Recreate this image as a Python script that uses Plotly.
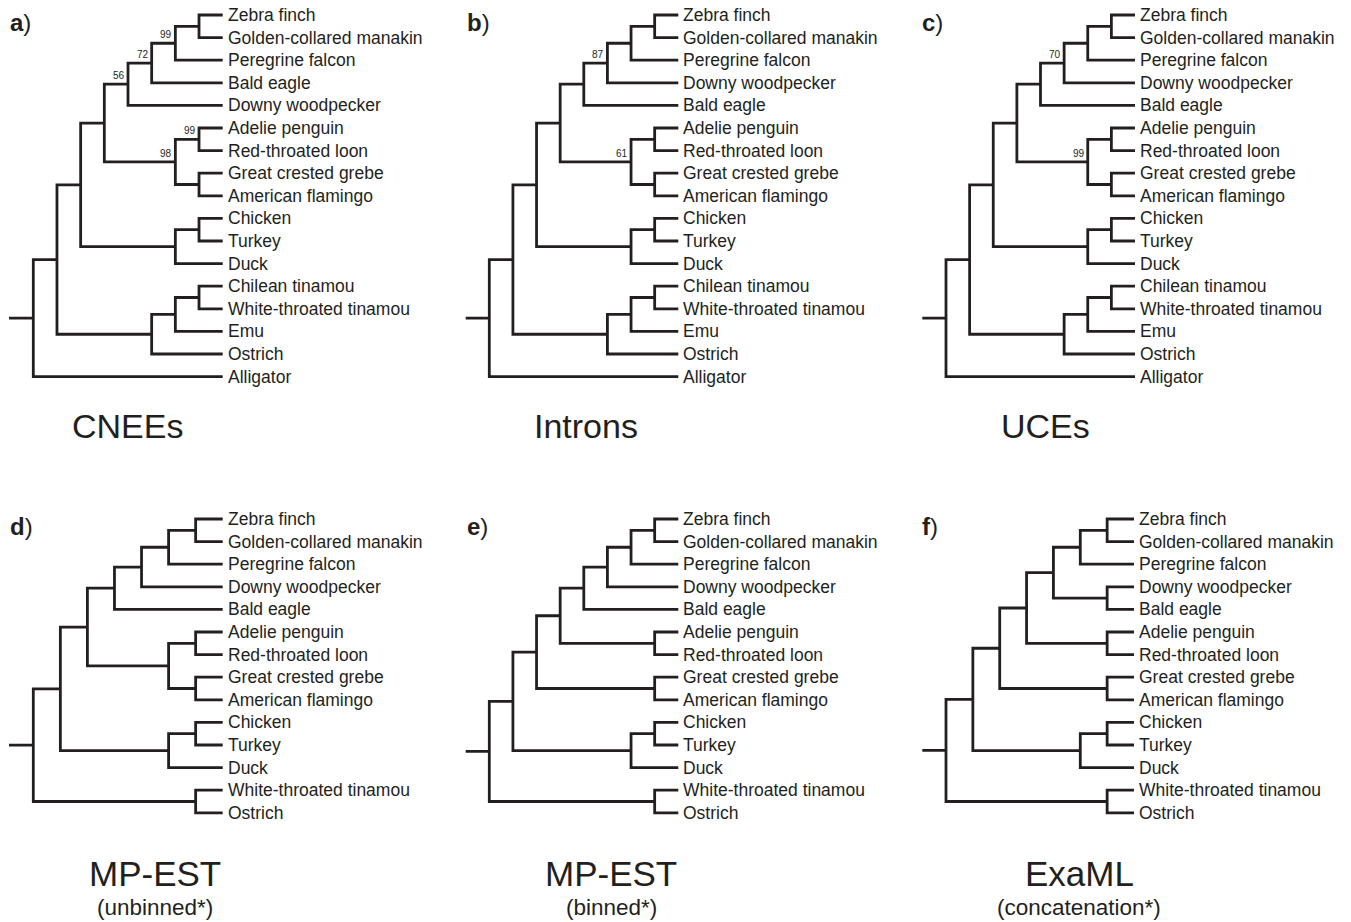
import plotly.graph_objects as go

# ---------------- data: tree topologies (Newick) with bootstrap labels ----------------
TREE_CNEES = ("((((((((Zebra finch,Golden-collared manakin),Peregrine falcon)99,Bald eagle)72,"
              "Downy woodpecker)56,((Adelie penguin,Red-throated loon)99,"
              "(Great crested grebe,American flamingo))98),((Chicken,Turkey),Duck)),"
              "(((Chilean tinamou,White-throated tinamou),Emu),Ostrich)),Alligator);")
TREE_INTRONS = ("((((((((Zebra finch,Golden-collared manakin),Peregrine falcon),Downy woodpecker)87,"
                "Bald eagle),((Adelie penguin,Red-throated loon),"
                "(Great crested grebe,American flamingo))61),((Chicken,Turkey),Duck)),"
                "(((Chilean tinamou,White-throated tinamou),Emu),Ostrich)),Alligator);")
TREE_UCES = ("((((((((Zebra finch,Golden-collared manakin),Peregrine falcon),Downy woodpecker)70,"
             "Bald eagle),((Adelie penguin,Red-throated loon),"
             "(Great crested grebe,American flamingo))99),((Chicken,Turkey),Duck)),"
             "(((Chilean tinamou,White-throated tinamou),Emu),Ostrich)),Alligator);")
TREE_MPEST_UNBINNED = ("(((((((Zebra finch,Golden-collared manakin),Peregrine falcon),Downy woodpecker),"
                       "Bald eagle),((Adelie penguin,Red-throated loon),"
                       "(Great crested grebe,American flamingo))),((Chicken,Turkey),Duck)),"
                       "(White-throated tinamou,Ostrich));")
TREE_MPEST_BINNED = ("((((((((Zebra finch,Golden-collared manakin),Peregrine falcon),Downy woodpecker),"
                     "Bald eagle),(Adelie penguin,Red-throated loon)),"
                     "(Great crested grebe,American flamingo)),((Chicken,Turkey),Duck)),"
                     "(White-throated tinamou,Ostrich));")
TREE_EXAML = ("(((((((Zebra finch,Golden-collared manakin),Peregrine falcon),"
              "(Downy woodpecker,Bald eagle)),(Adelie penguin,Red-throated loon)),"
              "(Great crested grebe,American flamingo)),((Chicken,Turkey),Duck)),"
              "(White-throated tinamou,Ostrich));")

PANEL_LETTERS = ["a", "b", "c", "d", "e", "f"]
TITLES = ["CNEEs", "Introns", "UCEs", "MP-EST", "MP-EST", "ExaML"]
SUBTITLES = ["", "", "", "(unbinned*)", "(binned*)", "(concatenation*)"]
TREES = [TREE_CNEES, TREE_INTRONS, TREE_UCES, TREE_MPEST_UNBINNED, TREE_MPEST_BINNED, TREE_EXAML]

# ---------------- layout (pixel geometry of each panel) ----------------
W, H = 1351, 922
INK = "#231f20"
FONT = "Liberation Sans, Arial, Helvetica, sans-serif"
ROW = 22.6
PANELS = [
    dict(stub=9.0, root=33.3, leaf=222.7, y0=15.0, tx=127, ty=426, lx=8, ly=22),
    dict(stub=465.7, root=489.3, leaf=678.3, y0=15.0, tx=586, ty=426, lx=465, ly=22),
    dict(stub=922.3, root=946.0, leaf=1135.0, y0=15.0, tx=1045, ty=426, lx=920, ly=22),
    dict(stub=9.0, root=33.3, leaf=222.7, y0=519.0, tx=155, ty=873, lx=8, ly=526),
    dict(stub=465.7, root=489.3, leaf=678.3, y0=519.0, tx=611, ty=873, lx=465, ly=526),
    dict(stub=922.3, root=946.0, leaf=1134.0, y0=519.0, tx=1079, ty=873, lx=920, ly=526),
]


def parse_newick(s):
    s = s.strip().rstrip(";")
    pos = 0

    def node():
        nonlocal pos
        children = []
        if s[pos] == "(":
            pos += 1
            while True:
                children.append(node())
                if s[pos] == ",":
                    pos += 1
                    continue
                if s[pos] == ")":
                    pos += 1
                    break
        start = pos
        while pos < len(s) and s[pos] not in ",()":
            pos += 1
        return {"children": children, "name": s[start:pos].strip()}

    return node()


def layout_tree(root):
    leaves = []

    def height(n):
        n["h"] = 0 if not n["children"] else 1 + max(height(c) for c in n["children"])
        return n["h"]

    maxh = height(root)

    def place(n):
        n["x"] = maxh - n["h"]
        if not n["children"]:
            n["y"] = len(leaves)
            leaves.append(n)
        else:
            for c in n["children"]:
                place(c)
            n["y"] = (n["children"][0]["y"] + n["children"][-1]["y"]) / 2.0

    place(root)
    return maxh, leaves


fig = go.Figure()
annotations = []
layout_axes = {}

for i, (tree_str, P) in enumerate(zip(TREES, PANELS)):
    k = "" if i == 0 else str(i + 1)
    root = parse_newick(tree_str)
    maxh, leaves = layout_tree(root)
    n = len(leaves)
    ppl = (P["leaf"] - P["root"]) / maxh
    stub_len = (P["root"] - P["stub"]) / ppl

    xs, ys = [-stub_len, 0, None], [root["y"], root["y"], None]

    def walk(nd):
        if not nd["children"]:
            return
        ch = nd["children"]
        first, last = ch[0], ch[-1]
        xs.extend([first["x"], nd["x"], nd["x"], last["x"], None])
        ys.extend([first["y"], first["y"], last["y"], last["y"], None])
        for c in ch[1:-1]:
            xs.extend([nd["x"], c["x"], None])
            ys.extend([c["y"], c["y"], None])
        if nd is not root and nd["name"]:
            annotations.append(dict(x=nd["x"], y=nd["y"], xref="x" + k, yref="y" + k,
                                    text=nd["name"], showarrow=False, xanchor="right",
                                    yanchor="bottom", xshift=-1, yshift=1,
                                    font=dict(family=FONT, size=10, color=INK)))
        for c in ch:
            walk(c)

    walk(root)
    fig.add_trace(go.Scatter(x=xs, y=ys, mode="lines", xaxis="x" + k, yaxis="y" + k,
                             line=dict(color=INK, width=2.8), hoverinfo="skip",
                             showlegend=False))

    for lf in leaves:
        annotations.append(dict(x=lf["x"], y=lf["y"], xref="x" + k, yref="y" + k,
                                text=lf["name"], showarrow=False, xanchor="left",
                                yanchor="middle", xshift=3, yshift=0,
                                font=dict(family=FONT, size=17.5, color=INK)))

    # axis geometry
    dl, dr = P["stub"] - 6, P["leaf"] + 6
    dt, db = P["y0"] - 12, P["y0"] + (n - 1) * ROW + 12
    layout_axes["xaxis" + k] = dict(domain=[dl / W, dr / W],
                                    range=[(dl - P["root"]) / ppl, (dr - P["root"]) / ppl],
                                    visible=False, fixedrange=True, anchor="y" + k)
    layout_axes["yaxis" + k] = dict(domain=[1 - db / H, 1 - dt / H],
                                    range=[(db - P["y0"]) / ROW, (dt - P["y0"]) / ROW],
                                    visible=False, fixedrange=True, anchor="x" + k)

    # titles
    annotations.append(dict(x=P["tx"] / W, y=1 - P["ty"] / H, xref="paper", yref="paper",
                            text=TITLES[i], showarrow=False, xanchor="center", yanchor="middle",
                            font=dict(family=FONT, size=35 if SUBTITLES[i] else 34, color=INK)))
    if SUBTITLES[i]:
        annotations.append(dict(x=P["tx"] / W, y=1 - (P["ty"] + 34) / H, xref="paper", yref="paper",
                                text=SUBTITLES[i], showarrow=False, xanchor="center", yanchor="middle",
                                font=dict(family=FONT, size=22.5, color=INK)))
    annotations.append(dict(x=P["lx"] / W, y=1 - P["ly"] / H, xref="paper", yref="paper",
                            text="<b>" + PANEL_LETTERS[i] + "</b>)", showarrow=False,
                            xanchor="left", yanchor="middle",
                            font=dict(family=FONT, size=24, color=INK)))

fig.update_layout(width=W, height=H, margin=dict(l=0, r=0, t=0, b=0),
                  paper_bgcolor="white", plot_bgcolor="rgba(0,0,0,0)",
                  annotations=annotations, **layout_axes)

fig.write_html("out.html", config={"displayModeBar": False},
               post_script="document.body.style.margin='0';document.documentElement.style.overflow='hidden';")
